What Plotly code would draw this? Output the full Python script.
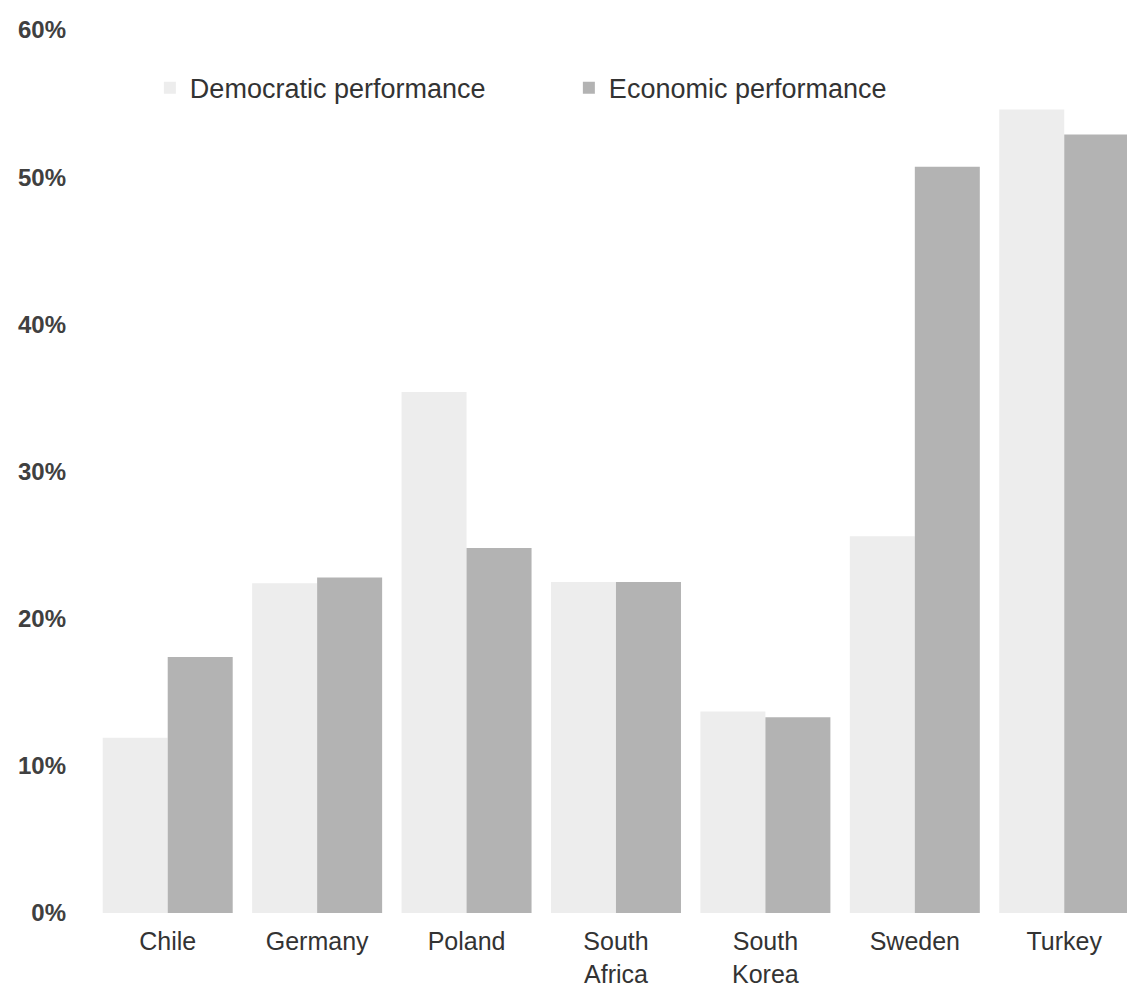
import plotly.graph_objects as go

categories = ["Chile", "Germany", "Poland", "South<br>Africa", "South<br>Korea", "Sweden", "Turkey"]
democratic = [11.9, 22.4, 35.4, 22.5, 13.7, 25.6, 54.6]
economic = [17.4, 22.8, 24.8, 22.5, 13.3, 50.7, 52.9]
y_ticks = [0, 10, 20, 30, 40, 50, 60]
y_tick_labels = ["0%", "10%", "20%", "30%", "40%", "50%", "60%"]

fig = go.Figure()
fig.add_trace(go.Bar(name="Democratic performance", x=categories, y=democratic,
                     marker=dict(color="#ededed", line=dict(width=0))))
fig.add_trace(go.Bar(name="Economic performance", x=categories, y=economic,
                     marker=dict(color="#b3b3b3", line=dict(width=0))))

fig.update_layout(
    width=1127, height=990,
    margin=dict(l=93, r=0, t=30, b=77),
    paper_bgcolor="white", plot_bgcolor="white",
    barmode="group", bargap=0.13, bargroupgap=0.0,
    font=dict(family="Liberation Sans, Arial, sans-serif", color="#333333"),
    legend=dict(orientation="h", x=0.055, y=0.934, xanchor="left", yanchor="middle",
                font=dict(size=27, color="#333333"), entrywidth=374,
                bgcolor="rgba(0,0,0,0)"),
    showlegend=True,
)
fig.update_xaxes(range=[-0.5, 6.42], showgrid=False, showline=False, zeroline=False,
                 ticks="", ticklabelstandoff=11, automargin=False,
                 tickfont=dict(size=25, color="#333333"))
fig.update_yaxes(range=[0, 60], tickvals=y_ticks, ticktext=y_tick_labels,
                 showgrid=False, showline=False, zeroline=False, ticks="",
                 ticklabelstandoff=26, automargin=False,
                 tickfont=dict(size=24, color="#404040", weight="bold"))

fig.write_html("out.html")
